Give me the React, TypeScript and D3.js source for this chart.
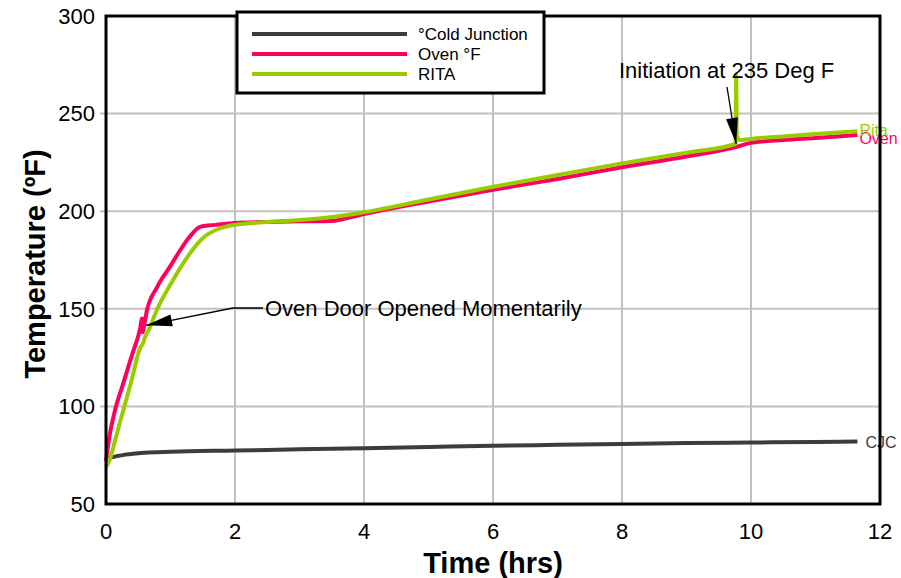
import * as d3 from "d3";

// time (hrs) / temperature (°F)
const cjcTime = [0, 0.1, 0.3, 0.6, 1, 2, 3, 4, 5, 6, 7, 8, 9, 10, 11, 11.65];
const cjcTemp = [73, 74, 75.3, 76.3, 76.8, 77.4, 78, 78.6, 79.2, 79.8, 80.3, 80.8, 81.2, 81.5, 81.8, 82];

const ovenTime = [0, 0.05, 0.14, 0.26, 0.4, 0.53, 0.56, 0.57, 0.59, 0.63, 0.79, 1.0, 1.15, 1.3, 1.46, 1.7, 2, 2.5, 3, 3.5, 3.8, 4, 5, 6, 7, 8, 9, 9.78, 10, 10.5, 11, 11.65];
const ovenTemp = [72, 84, 98, 111, 126, 140, 145, 138, 141, 148.5, 161, 172, 180, 187, 192, 193, 194, 194.5, 194.8, 195, 197, 198.5, 205, 211, 216.5, 222.5, 228, 233, 235, 236.5, 237.5, 239];

const ritaTime = [0, 0.05, 0.16, 0.26, 0.4, 0.53, 0.58, 0.6, 0.66, 0.79, 1.04, 1.25, 1.53, 1.75, 2, 2.5, 3, 3.5, 4, 5, 6, 7, 8, 9, 9.76, 9.77, 9.78, 9.82, 9.9, 10, 10.5, 11, 11.65];
const ritaTemp = [69, 72, 85, 97, 113.8, 130, 132.8, 135, 139, 149.5, 164.8, 176, 187, 191, 193, 194.5, 195.5, 197, 199.5, 206, 212.5, 218.5, 224.5, 230, 234.5, 270, 239, 236.5, 236.6, 237, 238.3, 239.5, 241];

const seriesNames = ["°Cold Junction", "Oven °F", "RITA"];
const seriesColors = ["#3c3c3c", "#ff0060", "#99cc00"];
const endLabels = ["CJC", "Oven", "Rita"];

const xTicks = [0, 2, 4, 6, 8, 10, 12];
const yTicks = [50, 100, 150, 200, 250, 300];

const W = 901;
const H = 578;
const left = 106;
const right = 880;
const top = 16;
const bottom = 504;
const font = "'Liberation Sans', Arial, sans-serif";

function arrowHead(x1: number, y1: number, x2: number, y2: number, len = 26, half = 6) {
  const a = Math.atan2(y2 - y1, x2 - x1);
  const bx = x2 - len * Math.cos(a);
  const by = y2 - len * Math.sin(a);
  const px = -Math.sin(a) * half;
  const py = Math.cos(a) * half;
  return `M${x2},${y2}L${bx + px},${by + py}L${bx - px},${by - py}Z`;
}

export default function App() {
  const x = d3.scaleLinear().domain([0, 12]).range([left, right]);
  const y = d3.scaleLinear().domain([50, 300]).range([bottom, top]);

  const line = d3
    .line<[number, number]>()
    .x((d) => x(d[0]))
    .y((d) => y(d[1]))
    .curve(d3.curveMonotoneX);

  const series = [
    d3.zip(cjcTime, cjcTemp) as [number, number][],
    d3.zip(ovenTime, ovenTemp) as [number, number][],
    d3.zip(ritaTime, ritaTemp) as [number, number][],
  ];

  const lastCjc = series[0][series[0].length - 1];
  const lastOven = series[1][series[1].length - 1];
  const lastRita = series[2][series[2].length - 1];

  // annotation anchors (data coords)
  const doorTip: [number, number] = [x(0.56), y(141)];
  const initTip: [number, number] = [x(9.77), y(234.5)];

  return (
    <svg width={W} height={H} style={{ position: "absolute", left: 0, top: 0, background: "#fff" }}>
      {/* grid */}
      {xTicks.slice(1, -1).map((t) => (
        <line key={"gx" + t} x1={x(t)} x2={x(t)} y1={top} y2={bottom} stroke="#c0c0c0" strokeWidth={2} />
      ))}
      {yTicks.slice(1, -1).map((t) => (
        <line key={"gy" + t} x1={left - 6} x2={right} y1={y(t)} y2={y(t)} stroke="#c0c0c0" strokeWidth={2} />
      ))}

      {/* end labels, under the frame like the original */}
      <text x={x(lastCjc[0]) + 8} y={y(lastCjc[1]) + 6} fontFamily={font} fontSize={16} fill={seriesColors[0]}>
        {endLabels[0]}
      </text>
      <text x={x(lastOven[0]) + 2} y={y(lastOven[1]) + 9} fontFamily={font} fontSize={16} fill={seriesColors[1]}>
        {endLabels[1]}
      </text>
      <text x={x(lastRita[0]) + 2} y={y(lastRita[1]) + 5} fontFamily={font} fontSize={16} fill={seriesColors[2]}>
        {endLabels[2]}
      </text>

      {series.map((s, i) => (
        <path key={i} d={line(s) ?? ""} fill="none" stroke={seriesColors[i]} strokeWidth={4} strokeLinejoin="round" />
      ))}

      {/* frame */}
      <rect x={left} y={top} width={right - left} height={bottom - top} fill="none" stroke="#000" strokeWidth={3} />

      {yTicks.map((t) => (
        <text key={"ty" + t} x={95} y={y(t)} dy="0.35em" textAnchor="end" fontFamily={font} fontSize={22} fill="#000">
          {t}
        </text>
      ))}
      {xTicks.map((t) => (
        <text key={"tx" + t} x={x(t)} y={531} dy="0.35em" textAnchor="middle" fontFamily={font} fontSize={22} fill="#000">
          {t}
        </text>
      ))}

      {/* axis titles */}
      <text x={(left + right) / 2} y={573} textAnchor="middle" fontFamily={font} fontSize={29} fontWeight="bold" fill="#000">
        Time (hrs)
      </text>
      <text
        transform={`translate(45,${(top + bottom) / 2 + 4}) rotate(-90)`}
        textAnchor="middle"
        fontFamily={font}
        fontSize={29}
        fontWeight="bold"
        fill="#000"
      >
        Temperature (ºF)
      </text>

      {/* annotation: door */}
      <polyline points={`263,308 233,308 ${doorTip[0] + 4},${doorTip[1] - 1}`} fill="none" stroke="#000" strokeWidth={1.3} />
      <path d={arrowHead(233, 308, doorTip[0] + 4, doorTip[1] - 1)} fill="#000" />
      <text x={265} y={308} dy="0.35em" fontFamily={font} fontSize={22} fill="#000">
        Oven Door Opened Momentarily
      </text>

      {/* annotation: initiation */}
      <line x1={727} y1={87} x2={initTip[0]} y2={initTip[1]} stroke="#000" strokeWidth={1.3} />
      <path d={arrowHead(727, 87, initTip[0], initTip[1])} fill="#000" />
      <text x={619} y={78} fontFamily={font} fontSize={22} fill="#000">
        Initiation at 235 Deg F
      </text>

      {/* legend */}
      <rect x={237} y={12} width={307} height={81} fill="#fff" stroke="#000" strokeWidth={3} />
      {seriesNames.map((n, i) => (
        <g key={n} transform={`translate(0,${34 + i * 20})`}>
          <line x1={252} x2={407} y1={0} y2={0} stroke={seriesColors[i]} strokeWidth={4} />
          <text x={418} y={0} dy="0.35em" fontFamily={font} fontSize={17} fill="#000">
            {n}
          </text>
        </g>
      ))}
    </svg>
  );
}
